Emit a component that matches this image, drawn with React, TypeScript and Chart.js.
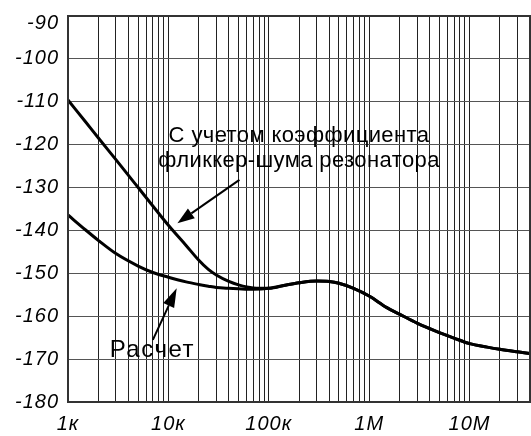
import React, { useEffect, useRef } from "react";
import { Chart, registerables } from "chart.js";

Chart.register(...registerables);

// ---- data ----
const FREQ = [1e3, 1.5e3, 2e3, 3e3, 5e3, 7e3, 1e4, 1.5e4, 2e4, 2.5e4, 3e4, 4e4, 5e4, 7e4, 1e5, 1.5e5, 2e5, 3e5, 4e5, 5e5, 7e5, 1e6, 1.5e6, 2e6, 3e6, 5e6, 7e6, 1e7, 1.5e7, 2e7, 3e7, 4e7];
const WITH_FLICKER = [-109.6, -114.7, -118.4, -123.5, -130.0, -134.3, -138.8, -143.5, -146.9, -149.1, -150.4, -151.9, -152.7, -153.4, -153.5, -152.7, -152.2, -151.8, -151.9, -152.3, -153.5, -155.3, -158.0, -159.5, -161.6, -163.8, -165.1, -166.4, -167.2, -167.7, -168.3, -168.7];
const CALCULATED = [-136.4, -139.9, -142.3, -145.4, -148.3, -149.8, -150.9, -152.0, -152.6, -153.0, -153.3, -153.5, -153.6, -153.7, -153.5, -152.7, -152.2, -151.8, -151.9, -152.3, -153.5, -155.3, -158.0, -159.5, -161.6, -163.8, -165.1, -166.4, -167.2, -167.7, -168.3, -168.7];

const X_MIN = 1e3;
const X_MAX = 4e7;
const Y_MIN = -180;
const Y_MAX = -90;
const Y_STEP = 10;
const X_DECADES = [1e3, 1e4, 1e5, 1e6, 1e7];
const X_DECADE_LABELS = ["1к", "10к", "100к", "1M", "10M"];
const X_GRID_MULTIPLIERS = [1, 2, 3, 4, 5, 6, 7, 8, 9];

const NOTE_FLICKER = ["С учетом коэффициента", "фликкер-шума резонатора"];
const NOTE_CALC = "Расчет";

// annotation anchors in data coordinates
const NOTE_FLICKER_POS = { x: 2.0e5, y1: -119.3, y2: -125.1 };
const ARROW_FLICKER = { fromX: 5.1e4, fromY: -128.2, toX: 1.23e4, toY: -138.3 };
const NOTE_CALC_POS = { x: 2.6e3, y: -169.4 };
const ARROW_CALC = { fromX: 7.0e3, fromY: -165.5, toX: 1.21e4, toY: -153.5 };

const FONT = "'Liberation Sans', Arial, sans-serif";

function drawArrow(ctx: CanvasRenderingContext2D, x1: number, y1: number, x2: number, y2: number, headLen: number, headW: number) {
  const ang = Math.atan2(y2 - y1, x2 - x1);
  const bx = x2 - headLen * Math.cos(ang);
  const by = y2 - headLen * Math.sin(ang);
  ctx.beginPath();
  ctx.moveTo(x1, y1);
  ctx.lineTo(bx, by);
  ctx.lineWidth = 2;
  ctx.strokeStyle = "#000";
  ctx.stroke();
  ctx.beginPath();
  ctx.moveTo(x2, y2);
  ctx.lineTo(bx + (headW / 2) * Math.sin(ang), by - (headW / 2) * Math.cos(ang));
  ctx.lineTo(bx - (headW / 2) * Math.sin(ang), by + (headW / 2) * Math.cos(ang));
  ctx.closePath();
  ctx.fillStyle = "#000";
  ctx.fill();
}

const framePlugin = {
  id: "frameAndNotes",
  beforeDraw(chart: any) {
    (chart.ctx as any).letterSpacing = "1px";
  },
  afterDraw(chart: any) {
    const { ctx, chartArea: a, scales } = chart;
    const xs = scales.x;
    const ys = scales.y;
    ctx.save();
    (ctx as any).letterSpacing = "0px";
    ctx.lineWidth = 2;
    ctx.strokeStyle = "#333";
    ctx.strokeRect(a.left, a.top, a.right - a.left, a.bottom - a.top);

    ctx.fillStyle = "#000";
    ctx.textBaseline = "alphabetic";
    ctx.textAlign = "center";
    ctx.font = `22px ${FONT}`;
    (ctx as any).letterSpacing = "0.4px";
    const nx = xs.getPixelForValue(NOTE_FLICKER_POS.x);
    ctx.fillText(NOTE_FLICKER[0], nx, ys.getPixelForValue(NOTE_FLICKER_POS.y1));
    ctx.fillText(NOTE_FLICKER[1], nx, ys.getPixelForValue(NOTE_FLICKER_POS.y2));

    ctx.textAlign = "left";
    ctx.font = `24px ${FONT}`;
    (ctx as any).letterSpacing = "1.5px";
    ctx.fillText(NOTE_CALC, xs.getPixelForValue(NOTE_CALC_POS.x), ys.getPixelForValue(NOTE_CALC_POS.y));
    (ctx as any).letterSpacing = "0px";

    drawArrow(ctx, xs.getPixelForValue(ARROW_FLICKER.fromX), ys.getPixelForValue(ARROW_FLICKER.fromY),
      xs.getPixelForValue(ARROW_FLICKER.toX), ys.getPixelForValue(ARROW_FLICKER.toY), 17, 12);
    drawArrow(ctx, xs.getPixelForValue(ARROW_CALC.fromX), ys.getPixelForValue(ARROW_CALC.fromY),
      xs.getPixelForValue(ARROW_CALC.toX), ys.getPixelForValue(ARROW_CALC.toY), 19, 12);
    ctx.restore();
  },
};

const clearPadding = (s: any) => {
  s.paddingTop = 0;
  s.paddingBottom = 0;
  s.paddingLeft = 0;
  s.paddingRight = 0;
};

export default function App() {
  const ref = useRef<HTMLCanvasElement | null>(null);
  useEffect(() => {
    if (!ref.current) return;
    const gridTicks: number[] = [];
    X_DECADES.forEach((d) => X_GRID_MULTIPLIERS.forEach((m) => {
      const v = d * m;
      if (v <= X_MAX) gridTicks.push(v);
    }));
    if (gridTicks[gridTicks.length - 1] !== X_MAX) gridTicks.push(X_MAX);

    const lineStyle = {
      borderColor: "#000",
      borderWidth: 3,
      pointRadius: 0,
      fill: false,
      cubicInterpolationMode: "monotone" as const,
    };

    const chart = new Chart(ref.current, {
      type: "line",
      data: {
        datasets: [
          { label: NOTE_FLICKER.join(" "), data: FREQ.map((f, i) => ({ x: f, y: WITH_FLICKER[i] })), ...lineStyle },
          { label: NOTE_CALC, data: FREQ.map((f, i) => ({ x: f, y: CALCULATED[i] })), ...lineStyle },
        ],
      },
      options: {
        responsive: false,
        animation: false,
        devicePixelRatio: 1,
        layout: { padding: { top: 16, right: 1, left: 0, bottom: 0 } },
        plugins: { legend: { display: false }, tooltip: { enabled: false } },
        scales: {
          x: {
            type: "logarithmic",
            min: X_MIN,
            max: X_MAX,
            afterBuildTicks: (s: any) => {
              s.ticks = gridTicks.map((v) => ({ value: v }));
            },
            afterFit: (s: any) => {
              s.height = 34;
              clearPadding(s);
            },
            border: { display: false },
            grid: { color: "#222", lineWidth: 1, drawTicks: false },
            ticks: {
              autoSkip: false,
              maxRotation: 0,
              minRotation: 0,
              padding: 10,
              color: "#000",
              font: { family: FONT, size: 20, style: "italic" },
              callback: (v: any) => {
                const idx = X_DECADES.indexOf(Number(v));
                return idx >= 0 ? X_DECADE_LABELS[idx] : "";
              },
            },
          },
          y: {
            type: "linear",
            min: Y_MIN,
            max: Y_MAX,
            afterFit: (s: any) => {
              s.width = 68;
              clearPadding(s);
            },
            border: { display: false },
            grid: { color: "#555", lineWidth: 1, drawTicks: false },
            ticks: {
              stepSize: Y_STEP,
              padding: 9,
              color: "#000",
              font: { family: FONT, size: 20, style: "italic", lineHeight: 0.72 },
              callback: (v: any) => (Number(v) === Y_MAX ? ["", String(v)] : String(v)),
            },
          },
        },
      },
      plugins: [framePlugin],
    });
    return () => chart.destroy();
  }, []);

  return (
    <div style={{ position: "fixed", left: 0, top: 0, width: 531, height: 436, background: "#fff" }}>
      <canvas ref={ref} width={531} height={436} style={{ display: "block" }} />
    </div>
  );
}
